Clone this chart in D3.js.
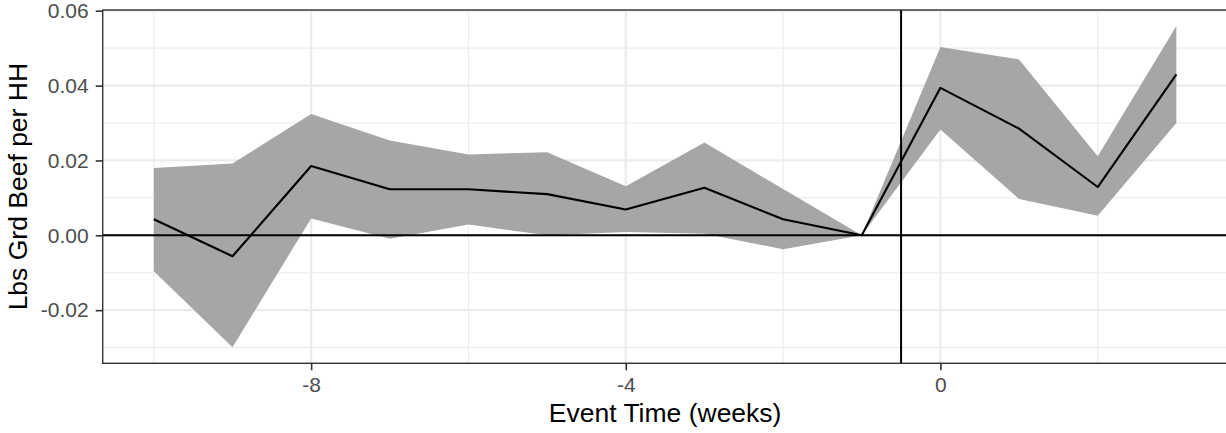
<!DOCTYPE html>
<html>
<head>
<meta charset="utf-8">
<script src="https://cdn.jsdelivr.net/npm/d3@7"></script>
<style>
  html, body { margin: 0; padding: 0; background: #fff; }
  svg { display: block; font-family: "Liberation Sans", Arial, Helvetica, sans-serif; }
</style>
</head>
<body>
<svg id="chart" width="1226" height="433"></svg>
<script>
// Event-study estimates: ground beef purchases per household by week relative to the event
const eventWeeks = [-10, -9, -8, -7, -6, -5, -4, -3, -2, -1, 0, 1, 2, 3];
const estimate   = [0.0043, -0.0056, 0.0185, 0.0123, 0.0123, 0.0110, 0.0069, 0.0127, 0.0043, 0.0000, 0.0394, 0.0285, 0.0129, 0.0430];
const ciUpper    = [0.0180, 0.0192, 0.0324, 0.0253, 0.0216, 0.0222, 0.0131, 0.0248, 0.0124, 0.0000, 0.0503, 0.0470, 0.0211, 0.0559];
const ciLower    = [-0.0096, -0.0299, 0.0045, -0.0009, 0.0029, 0.0000, 0.0009, 0.0004, -0.0037, 0.0000, 0.0283, 0.0097, 0.0052, 0.0300];

const xMajorTicks = [-8, -4, 0];
const xMinorTicks = [-10, -6, -2, 2];
const yMajorTicks = [-0.02, 0.00, 0.02, 0.04, 0.06];
const yMinorTicks = [-0.03, -0.01, 0.01, 0.03, 0.05];
const eventLine = -0.5;

const xTitle = "Event Time (weeks)";
const yTitle = "Lbs Grd Beef per HH";

const rows = eventWeeks.map((w, i) => ({ w, est: estimate[i], hi: ciUpper[i], lo: ciLower[i] }));

const svg = d3.select("#chart");
const panel = { left: 102.7, top: 10, right: 1227.5, bottom: 363.3 };

// ggplot-style 5% expansion around the data range
const xmin = d3.min(eventWeeks), xmax = d3.max(eventWeeks);
const xpad = (xmax - xmin) * 0.05;
const ymin = d3.min(ciLower), ymax = d3.max(ciUpper);
const ypad = (ymax - ymin) * 0.05;

const x = d3.scaleLinear().domain([xmin - xpad, xmax + xpad]).range([panel.left, panel.right]);
const y = d3.scaleLinear().domain([ymin - ypad, ymax + ypad]).range([panel.bottom, panel.top]);

const g = svg.append("g");

// panel background
g.append("rect")
  .attr("x", panel.left).attr("y", panel.top)
  .attr("width", panel.right - panel.left).attr("height", panel.bottom - panel.top)
  .attr("fill", "#fff");

// grid: minor then major
const grid = g.append("g");
grid.selectAll(".ymin").data(yMinorTicks).join("line")
  .attr("x1", panel.left).attr("x2", panel.right)
  .attr("y1", d => y(d)).attr("y2", d => y(d))
  .attr("stroke", "#ebebeb").attr("stroke-width", 1.1);
grid.selectAll(".xmin").data(xMinorTicks).join("line")
  .attr("y1", panel.top).attr("y2", panel.bottom)
  .attr("x1", d => x(d)).attr("x2", d => x(d))
  .attr("stroke", "#ebebeb").attr("stroke-width", 1.1);
grid.selectAll(".ymaj").data(yMajorTicks).join("line")
  .attr("x1", panel.left).attr("x2", panel.right)
  .attr("y1", d => y(d)).attr("y2", d => y(d))
  .attr("stroke", "#ebebeb").attr("stroke-width", 2.2);
grid.selectAll(".xmaj").data(xMajorTicks).join("line")
  .attr("y1", panel.top).attr("y2", panel.bottom)
  .attr("x1", d => x(d)).attr("x2", d => x(d))
  .attr("stroke", "#ebebeb").attr("stroke-width", 2.2);

// confidence ribbon
g.append("path")
  .datum(rows)
  .attr("fill", "#a6a6a6")
  .attr("d", d3.area().x(d => x(d.w)).y0(d => y(d.lo)).y1(d => y(d.hi)));

// reference lines
g.append("line")
  .attr("x1", panel.left).attr("x2", panel.right)
  .attr("y1", y(0)).attr("y2", y(0))
  .attr("stroke", "#000").attr("stroke-width", 2);
g.append("line")
  .attr("x1", x(eventLine)).attr("x2", x(eventLine))
  .attr("y1", panel.top).attr("y2", panel.bottom)
  .attr("stroke", "#000").attr("stroke-width", 2);

// point estimates
g.append("path")
  .datum(rows)
  .attr("fill", "none")
  .attr("stroke", "#000")
  .attr("stroke-width", 2.1)
  .attr("stroke-linejoin", "round")
  .attr("d", d3.line().x(d => x(d.w)).y(d => y(d.est)));

// panel border
g.append("rect")
  .attr("x", panel.left).attr("y", panel.top)
  .attr("width", panel.right - panel.left).attr("height", panel.bottom - panel.top)
  .attr("fill", "none").attr("stroke", "#333333").attr("stroke-width", 1.4);

// axes
const xAxis = d3.axisBottom(x).tickValues(xMajorTicks).tickSize(7).tickPadding(7).tickFormat(d3.format("d"));
const yAxis = d3.axisLeft(y).tickValues(yMajorTicks).tickSize(7).tickPadding(7).tickFormat(d3.format(".2f"));

const gx = svg.append("g").attr("transform", `translate(0,${panel.bottom})`).call(xAxis);
const gy = svg.append("g").attr("transform", `translate(${panel.left},0)`).call(yAxis);
[gx, gy].forEach(a => {
  a.select(".domain").remove();
  a.selectAll(".tick line").attr("stroke", "#333333").attr("stroke-width", 1.6);
  a.selectAll(".tick text").attr("fill", "#4d4d4d").style("font-size", "21px");
});
gx.selectAll(".tick text").text(d => d < 0 ? "-" + Math.abs(d) : d);
gy.selectAll(".tick text").text(d => (d < 0 ? "-" : "") + d3.format(".2f")(Math.abs(d)));

// axis titles
svg.append("text")
  .attr("x", (panel.left + panel.right) / 2)
  .attr("y", 422.3)
  .attr("text-anchor", "middle")
  .attr("fill", "#000")
  .style("font-size", "26.5px")
  .text(xTitle);
svg.append("text")
  .attr("transform", `translate(27,${(panel.top + panel.bottom) / 2}) rotate(-90)`)
  .attr("text-anchor", "middle")
  .attr("fill", "#000")
  .style("font-size", "26.5px")
  .text(yTitle);
</script>
</body>
</html>
